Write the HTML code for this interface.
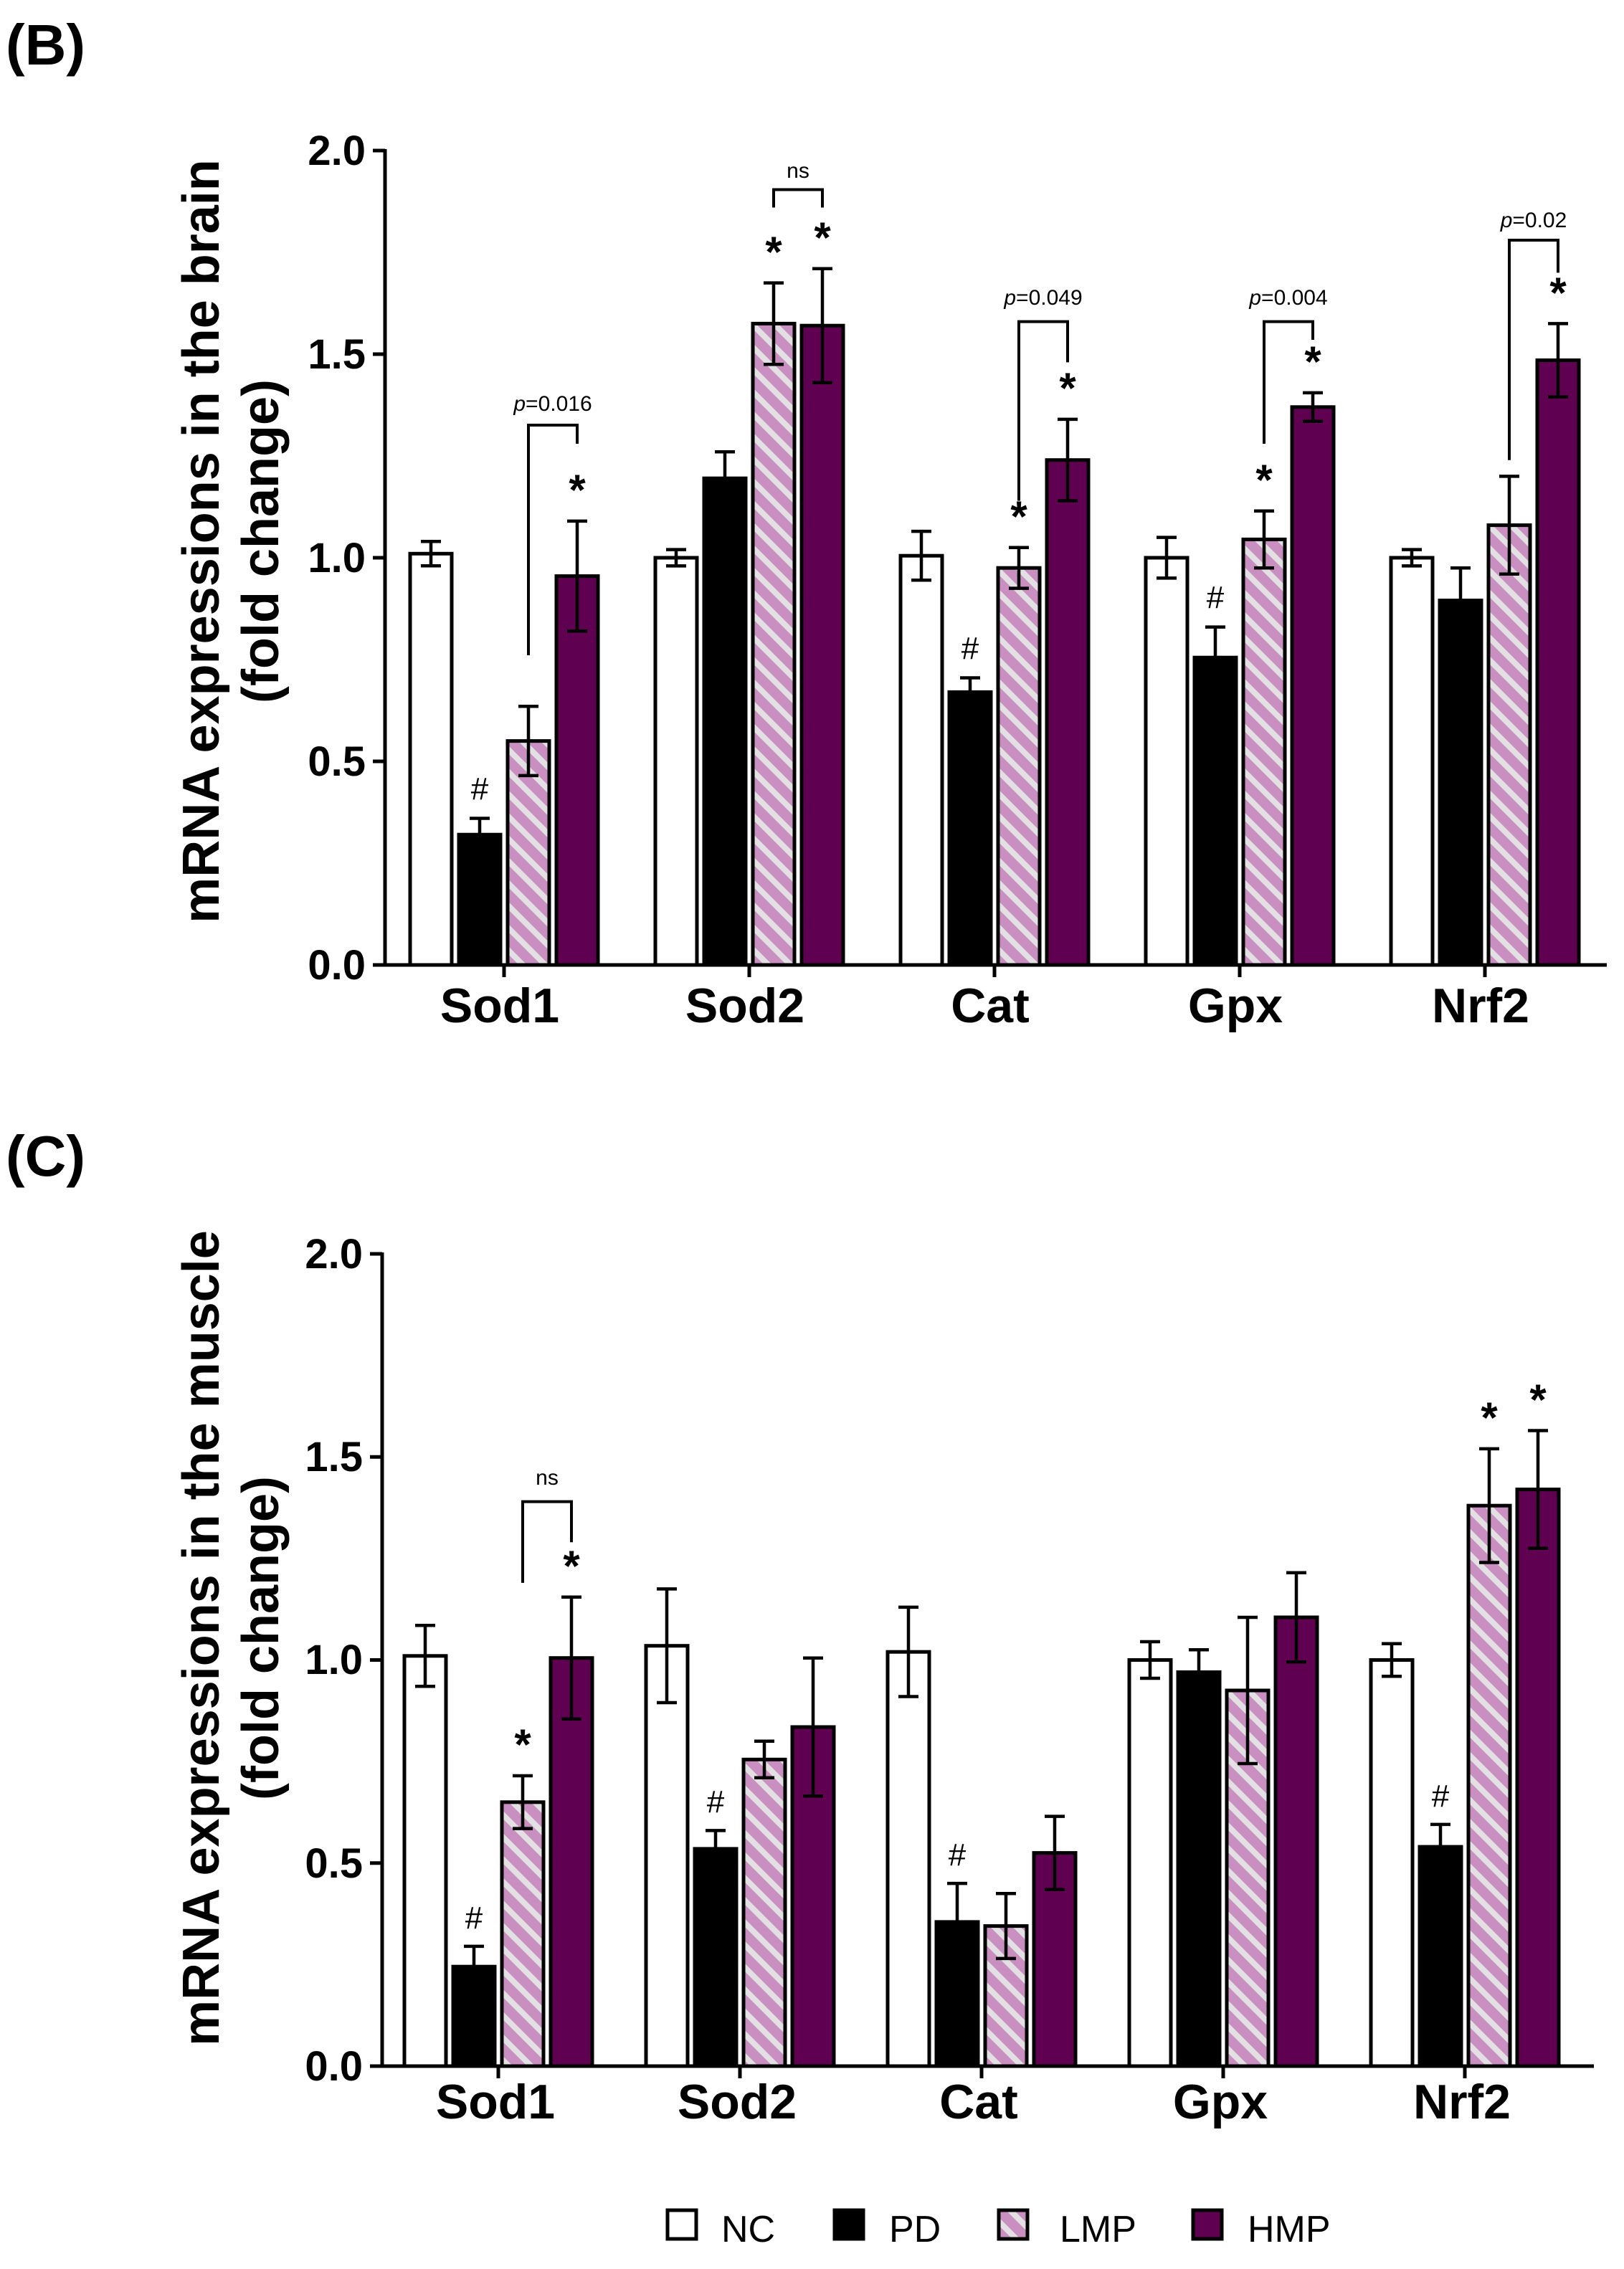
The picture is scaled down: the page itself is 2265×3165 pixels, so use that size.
<!DOCTYPE html>
<html><head><meta charset="utf-8"><style>
html,body{margin:0;padding:0;background:#fff;}
svg{display:block;}
text{font-family:"Liberation Sans",Arial,sans-serif;}
</style></head><body>
<svg width="2265" height="3165" viewBox="0 0 2265 3165" xmlns="http://www.w3.org/2000/svg">
<defs>
<pattern id="h" patternUnits="userSpaceOnUse" width="22" height="22" patternTransform="rotate(-45)">
<rect x="0" y="0" width="22" height="22" fill="#c98fc0"/>
<rect x="0" y="0" width="8" height="22" fill="#e2e0e2"/>
</pattern>
</defs>

<!-- Panel B -->
<text x="8" y="90" font-size="80" font-weight="bold">(B)</text>
<g transform="translate(305,755) rotate(-90)"><text x="0" y="0" font-size="72" font-weight="bold" text-anchor="middle">mRNA expressions in the brain</text></g>
<g transform="translate(388,755) rotate(-90)"><text x="0" y="0" font-size="72" font-weight="bold" text-anchor="middle">(fold change)</text></g>

<g stroke="#000" stroke-width="5" fill="none">
<line x1="537" y1="208" x2="537" y2="1348"/>
<line x1="520" y1="1346" x2="2241" y2="1346"/>
<line x1="520" y1="210" x2="537" y2="210"/>
<line x1="520" y1="494" x2="537" y2="494"/>
<line x1="520" y1="778" x2="537" y2="778"/>
<line x1="520" y1="1062" x2="537" y2="1062"/>
<line x1="703" y1="1346" x2="703" y2="1363"/>
<line x1="1045" y1="1346" x2="1045" y2="1363"/>
<line x1="1387" y1="1346" x2="1387" y2="1363"/>
<line x1="1729" y1="1346" x2="1729" y2="1363"/>
<line x1="2071" y1="1346" x2="2071" y2="1363"/>
</g>
<g font-size="58" font-weight="bold" text-anchor="end">
<text x="510" y="230">2.0</text><text x="510" y="514">1.5</text><text x="510" y="798">1.0</text><text x="510" y="1082">0.5</text><text x="510" y="1366">0.0</text>
</g>
<g font-size="68" font-weight="bold" text-anchor="middle">
<text x="697" y="1426">Sod1</text><text x="1039" y="1426">Sod2</text><text x="1381" y="1426">Cat</text><text x="1723" y="1426">Gpx</text><text x="2065" y="1426">Nrf2</text>
</g>

<g stroke="#000" stroke-width="5">
<rect x="572" y="772.3" width="58" height="573.7" fill="#fff"/>
<rect x="640" y="1164.2" width="58" height="181.8" fill="#000"/>
<rect x="708" y="1033.6" width="58" height="312.4" fill="url(#h)"/>
<rect x="776" y="803.6" width="58" height="542.4" fill="#600050"/>
<rect x="914" y="778" width="58" height="568" fill="#fff"/>
<rect x="982" y="667.2" width="58" height="678.8" fill="#000"/>
<rect x="1050" y="451.4" width="58" height="894.6" fill="url(#h)"/>
<rect x="1118" y="454.2" width="58" height="891.8" fill="#600050"/>
<rect x="1256" y="775.2" width="58" height="570.8" fill="#fff"/>
<rect x="1324" y="965.4" width="58" height="380.6" fill="#000"/>
<rect x="1392" y="792.2" width="58" height="553.8" fill="url(#h)"/>
<rect x="1460" y="641.7" width="58" height="704.3" fill="#600050"/>
<rect x="1598" y="778" width="58" height="568" fill="#fff"/>
<rect x="1666" y="917.2" width="58" height="428.8" fill="#000"/>
<rect x="1734" y="752.4" width="58" height="593.6" fill="url(#h)"/>
<rect x="1802" y="567.8" width="58" height="778.2" fill="#600050"/>
<rect x="1940" y="778" width="58" height="568" fill="#fff"/>
<rect x="2008" y="837.6" width="58" height="508.4" fill="#000"/>
<rect x="2076" y="732.6" width="58" height="613.4" fill="url(#h)"/>
<rect x="2144" y="502.5" width="58" height="843.5" fill="#600050"/>
</g>

<g stroke="#000" stroke-width="4.5" fill="none">
<path d="M601 755.2V789.3M587 755.2H615M587 789.3H615"/>
<path d="M669 1141.5V1186.9M655 1141.5H683"/>
<path d="M737 985.3V1081.9M723 985.3H751M723 1081.9H751"/>
<path d="M805 726.9V880.3M791 726.9H819M791 880.3H819"/>
<path d="M943 766.6V789.4M929 766.6H957M929 789.4H957"/>
<path d="M1011 630.3V704.1M997 630.3H1025M997 704.1H1025"/>
<path d="M1079 394.6V508.2M1065 394.6H1093M1065 508.2H1093"/>
<path d="M1147 374.7V533.7M1133 374.7H1161M1133 533.7H1161"/>
<path d="M1285 741.1V809.3M1271 741.1H1299M1271 809.3H1299"/>
<path d="M1353 945.5V985.3M1339 945.5H1367"/>
<path d="M1421 763.8V820.6M1407 763.8H1435M1407 820.6H1435"/>
<path d="M1489 584.9V698.5M1475 584.9H1503M1475 698.5H1503"/>
<path d="M1627 749.6V806.4M1613 749.6H1641M1613 806.4H1641"/>
<path d="M1695 874.6V959.8M1681 874.6H1709"/>
<path d="M1763 712.7V792.2M1749 712.7H1777M1749 792.2H1777"/>
<path d="M1831 547.9V587.7M1817 547.9H1845M1817 587.7H1845"/>
<path d="M1969 766.6V789.4M1955 766.6H1983M1955 789.4H1983"/>
<path d="M2037 792.2V883M2023 792.2H2051"/>
<path d="M2105 664.4V800.8M2091 664.4H2119M2091 800.8H2119"/>
<path d="M2173 451.4V553.6M2159 451.4H2187M2159 553.6H2187"/>
<path d="M737 914V593H805V619" stroke-width="4"/>
<path d="M1079 289.5V264.5H1147V289.5" stroke-width="4"/>
<path d="M1421 698.5V448.6H1489V505.4" stroke-width="4"/>
<path d="M1763 619V448.6H1831V474" stroke-width="4"/>
<path d="M2105 641.7V335H2173V380.4" stroke-width="4"/>
</g>
<g font-size="60" font-weight="bold" text-anchor="middle">
<text x="805" y="704">*</text>
<text x="1079" y="372">*</text><text x="1147" y="352">*</text>
<text x="1421" y="741">*</text><text x="1489" y="562">*</text>
<text x="1763" y="690">*</text><text x="1831" y="525">*</text>
<text x="2173" y="429">*</text>
</g>
<g font-size="44" text-anchor="middle">
<text x="669" y="1115">#</text><text x="1353" y="919">#</text><text x="1695" y="848">#</text>
</g>
<g font-size="30" text-anchor="middle">
<text x="771" y="573"><tspan font-style="italic">p</tspan>=0.016</text>
<text x="1113" y="248">ns</text>
<text x="1455" y="425"><tspan font-style="italic">p</tspan>=0.049</text>
<text x="1797" y="425"><tspan font-style="italic">p</tspan>=0.004</text>
<text x="2139" y="317"><tspan font-style="italic">p</tspan>=0.02</text>
</g>

<!-- Panel C -->
<text x="8" y="1640" font-size="80" font-weight="bold">(C)</text>
<g transform="translate(305,2285) rotate(-90)"><text x="0" y="0" font-size="72" font-weight="bold" text-anchor="middle">mRNA expressions in the muscle</text></g>
<g transform="translate(388,2285) rotate(-90)"><text x="0" y="0" font-size="72" font-weight="bold" text-anchor="middle">(fold change)</text></g>

<g stroke="#000" stroke-width="5" fill="none">
<line x1="533" y1="1747" x2="533" y2="2884"/>
<line x1="516" y1="2882" x2="2223" y2="2882"/>
<line x1="516" y1="1749" x2="533" y2="1749"/>
<line x1="516" y1="2032.3" x2="533" y2="2032.3"/>
<line x1="516" y1="2315.5" x2="533" y2="2315.5"/>
<line x1="516" y1="2598.8" x2="533" y2="2598.8"/>
<line x1="695" y1="2882" x2="695" y2="2899"/>
<line x1="1032" y1="2882" x2="1032" y2="2899"/>
<line x1="1369" y1="2882" x2="1369" y2="2899"/>
<line x1="1706" y1="2882" x2="1706" y2="2899"/>
<line x1="2043" y1="2882" x2="2043" y2="2899"/>
</g>
<g font-size="58" font-weight="bold" text-anchor="end">
<text x="506" y="1769">2.0</text><text x="506" y="2052">1.5</text><text x="506" y="2335">1.0</text><text x="506" y="2619">0.5</text><text x="506" y="2902">0.0</text>
</g>
<g font-size="68" font-weight="bold" text-anchor="middle">
<text x="691" y="2955">Sod1</text><text x="1028" y="2955">Sod2</text><text x="1365" y="2955">Cat</text><text x="1702" y="2955">Gpx</text><text x="2039" y="2955">Nrf2</text>
</g>

<g stroke="#000" stroke-width="5">
<rect x="564" y="2309.8" width="58" height="572.2" fill="#fff"/>
<rect x="632" y="2743.2" width="58" height="138.8" fill="#000"/>
<rect x="700" y="2513.8" width="58" height="368.2" fill="url(#h)"/>
<rect x="768" y="2312.7" width="58" height="569.3" fill="#600050"/>
<rect x="901" y="2295.7" width="58" height="586.3" fill="#fff"/>
<rect x="969" y="2578.9" width="58" height="303.1" fill="#000"/>
<rect x="1037" y="2454.3" width="58" height="427.7" fill="url(#h)"/>
<rect x="1105" y="2409" width="58" height="473" fill="#600050"/>
<rect x="1238" y="2304.2" width="58" height="577.8" fill="#fff"/>
<rect x="1306" y="2680.9" width="58" height="201.1" fill="#000"/>
<rect x="1374" y="2686.6" width="58" height="195.4" fill="url(#h)"/>
<rect x="1442" y="2584.6" width="58" height="297.4" fill="#600050"/>
<rect x="1575" y="2315.5" width="58" height="566.5" fill="#fff"/>
<rect x="1643" y="2332.5" width="58" height="549.5" fill="#000"/>
<rect x="1711" y="2358" width="58" height="524" fill="url(#h)"/>
<rect x="1779" y="2256" width="58" height="626" fill="#600050"/>
<rect x="1912" y="2315.5" width="58" height="566.5" fill="#fff"/>
<rect x="1980" y="2576.1" width="58" height="305.9" fill="#000"/>
<rect x="2048" y="2100.2" width="58" height="781.8" fill="url(#h)"/>
<rect x="2116" y="2077.6" width="58" height="804.4" fill="#600050"/>
</g>

<g stroke="#000" stroke-width="4.5" fill="none">
<path d="M593 2267.3V2352.3M579 2267.3H607M579 2352.3H607"/>
<path d="M661 2714.9V2771.5M647 2714.9H675"/>
<path d="M729 2477V2550.6M715 2477H743M715 2550.6H743"/>
<path d="M797 2227.7V2397.7M783 2227.7H811M783 2397.7H811"/>
<path d="M930 2216.4V2375M916 2216.4H944M916 2375H944"/>
<path d="M998 2553.4V2604.4M984 2553.4H1012"/>
<path d="M1066 2428.8V2479.8M1052 2428.8H1080M1052 2479.8H1080"/>
<path d="M1134 2312.7V2505.3M1120 2312.7H1148M1120 2505.3H1148"/>
<path d="M1267 2241.9V2366.5M1253 2241.9H1281M1253 2366.5H1281"/>
<path d="M1335 2627.1V2734.7M1321 2627.1H1349"/>
<path d="M1403 2641.3V2731.9M1389 2641.3H1417M1389 2731.9H1417"/>
<path d="M1471 2533.6V2635.6M1457 2533.6H1485M1457 2635.6H1485"/>
<path d="M1604 2290V2341M1590 2290H1618M1590 2341H1618"/>
<path d="M1672 2301.3V2363.7M1658 2301.3H1686"/>
<path d="M1740 2256V2460M1726 2256H1754M1726 2460H1754"/>
<path d="M1808 2193.7V2318.3M1794 2193.7H1822M1794 2318.3H1822"/>
<path d="M1941 2292.8V2338.2M1927 2292.8H1955M1927 2338.2H1955"/>
<path d="M2009 2544.9V2607.3M1995 2544.9H2023"/>
<path d="M2077 2020.9V2179.5M2063 2020.9H2091M2063 2179.5H2091"/>
<path d="M2145 1995.5V2159.7M2131 1995.5H2159M2131 2159.7H2159"/>
<path d="M729 2207.9V2094.6H797V2151.2" stroke-width="4"/>
</g>
<g font-size="60" font-weight="bold" text-anchor="middle">
<text x="729" y="2454">*</text><text x="797" y="2205">*</text>
<text x="2077" y="1998">*</text><text x="2145" y="1973">*</text>
</g>
<g font-size="44" text-anchor="middle">
<text x="661" y="2690">#</text><text x="998" y="2528">#</text><text x="1335" y="2602">#</text><text x="2009" y="2520">#</text>
</g>
<text x="763" y="2071" font-size="30" text-anchor="middle">ns</text>

<!-- Legend -->
<g stroke="#000" stroke-width="5">
<rect x="931" y="3083" width="40" height="40" fill="#fff"/>
<rect x="1164" y="3083" width="40" height="40" fill="#000"/>
<rect x="1393" y="3083" width="40" height="40" fill="url(#h)"/>
<rect x="1664" y="3083" width="40" height="40" fill="#600050"/>
</g>
<g font-size="52">
<text x="1006" y="3127">NC</text>
<text x="1240" y="3127">PD</text>
<text x="1478" y="3127">LMP</text>
<text x="1740" y="3127">HMP</text>
</g>
</svg>
</body></html>
